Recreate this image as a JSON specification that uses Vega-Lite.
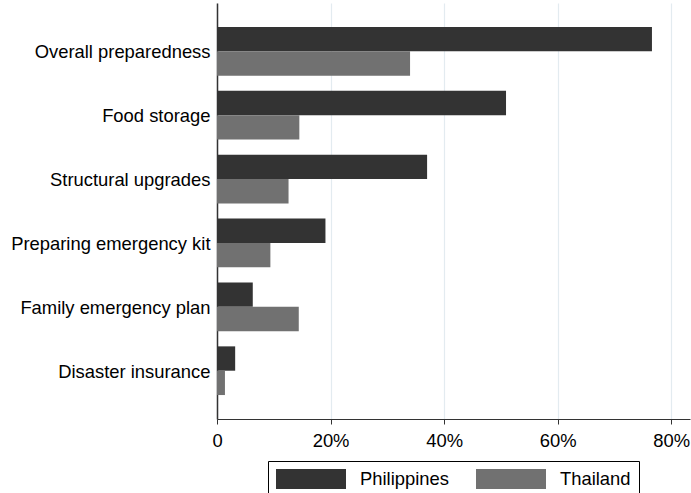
{
  "$schema": "https://vega.github.io/schema/vega-lite/v6.json",
  "autosize": {"type": "none"},
  "padding": {"left": 217, "top": 3, "right": 1, "bottom": 74},
  "width": 473,
  "height": 416,
  "background": "white",
  "data": {
    "values": [
      {"item": "Overall preparedness", "country": "Philippines", "share": 0.766},
      {"item": "Overall preparedness", "country": "Thailand", "share": 0.340},
      {"item": "Food storage", "country": "Philippines", "share": 0.509},
      {"item": "Food storage", "country": "Thailand", "share": 0.145},
      {"item": "Structural upgrades", "country": "Philippines", "share": 0.370},
      {"item": "Structural upgrades", "country": "Thailand", "share": 0.126},
      {"item": "Preparing emergency kit", "country": "Philippines", "share": 0.191},
      {"item": "Preparing emergency kit", "country": "Thailand", "share": 0.094},
      {"item": "Family emergency plan", "country": "Philippines", "share": 0.063},
      {"item": "Family emergency plan", "country": "Thailand", "share": 0.144},
      {"item": "Disaster insurance", "country": "Philippines", "share": 0.032},
      {"item": "Disaster insurance", "country": "Thailand", "share": 0.014}
    ]
  },
  "mark": {"type": "bar"},
  "encoding": {
    "y": {
      "field": "item",
      "type": "nominal",
      "sort": null,
      "scale": {"paddingInner": 0.238, "paddingOuter": 0.375},
      "axis": {
        "title": null,
        "ticks": false,
        "labelFontSize": 18.4,
        "labelFont": "Liberation Sans",
        "labelColor": "black",
        "labelPadding": 7,
        "labelBaseline": "middle",
        "labelOffset": 1,
        "domainColor": "#333333",
        "domainWidth": 1.5,
        "grid": false,
        "labelLimit": 300
      }
    },
    "yOffset": {
      "field": "country",
      "type": "nominal",
      "sort": ["Philippines", "Thailand"],
      "scale": {"paddingInner": 0, "paddingOuter": 0}
    },
    "x": {
      "field": "share",
      "type": "quantitative",
      "scale": {"domain": [0, 0.833], "nice": false, "zero": true},
      "axis": {
        "title": null,
        "values": [0, 0.2, 0.4, 0.6, 0.8],
        "labelExpr": "datum.value == 0 ? '0' : format(datum.value, '.0%')",
        "labelFontSize": 18.4,
        "labelFont": "Liberation Sans",
        "labelColor": "black",
        "labelPadding": 7,
        "tickSize": 5,
        "tickColor": "#333333",
        "domainColor": "#333333",
        "labelFlush": false,
        "labelOverlap": false,
        "grid": true,
        "gridColor": "#e3ebf0",
        "gridWidth": 1.2
      }
    },
    "color": {
      "field": "country",
      "type": "nominal",
      "scale": {"domain": ["Philippines", "Thailand"], "range": ["#333333", "#717171"]},
      "legend": {
        "title": null,
        "orient": "none",
        "direction": "horizontal",
        "legendX": 51,
        "legendY": 458,
        "symbolType": "M-1,-1H6V1H-1Z",
        "symbolSize": 400,
        "symbolStrokeWidth": 0,
        "labelOffset": 64,
        "labelFontSize": 18.4,
        "labelFont": "Liberation Sans",
        "labelColor": "black",
        "columnPadding": 27,
        "padding": 8,
        "strokeColor": "black",
        "fillColor": "white"
      }
    }
  },
  "config": {"view": {"stroke": null}}
}
